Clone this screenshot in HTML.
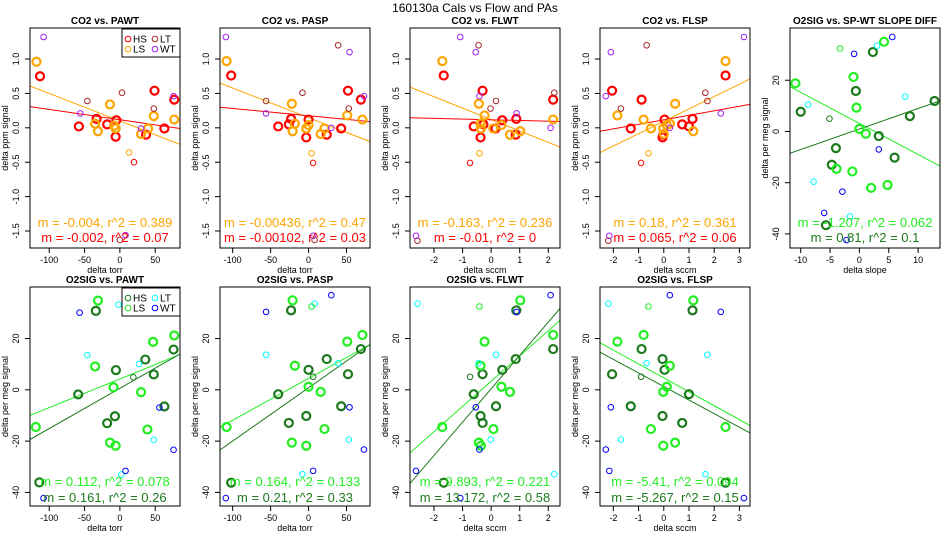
<!DOCTYPE html>
<html><head><meta charset="utf-8"><style>
html,body{margin:0;padding:0;background:#fff;}
svg{display:block;font-family:"Liberation Sans",Arial,sans-serif;}
</style></head><body>
<svg id="chart" width="950" height="550" viewBox="0 0 950 550">
<text x="475" y="12" text-anchor="middle" font-size="12">160130a   Cals vs Flow and PAs</text>
</svg>
<script>
// ===== Data =====
// Panel 1 CO2 vs PAWT
const p1_hs=[[-113,0.75],[-58,0.02],[-33,0.13],[-18,0.05],[-5,0.11],[-6,-0.13],[37,-0.10],[49,0.54],[63,-0.01],[77,0.41]];
const p1_ls=[[-118,0.96],[-14,0.34],[-35,0.06],[-31,-0.05],[-8,0.03],[-6,-0.01],[30,-0.09],[40,-0.01],[48,0.17],[77,0.12]];
const p1_lt=[[-46,0.39],[3,0.51],[48,0.28],[0,-1.63]];
const p1_wt=[[-108,1.32],[-56,0.21],[30,-0.01],[76,0.46],[8,-1.56]];
const p1_lsThin=[[13,-0.36]];
const p1_hsThin=[[20,-0.50]];
const p1_slopes=[-0.0040,-0.0015];
const p1_intercepts=[0.10,0.118];
// Panel 2 CO2 vs PASP
const p2_hs=[[-102,0.76],[-40,0.02],[-23,0.13],[-26,0.05],[0,0.12],[-3,-0.14],[24,-0.10],[52,0.54],[43,-0.01],[69,0.41]];
const p2_ls=[[-108,0.97],[-22,0.35],[-18,0.06],[-21,-0.05],[0,0.04],[-3,-0.01],[16,-0.09],[21,-0.01],[51,0.18],[71,0.12]];
const p2_lt=[[-56,0.39],[-8,0.51],[39,1.2],[53,0.28],[8,-1.63]];
const p2_wt=[[-109,1.32],[-56,0.21],[30,0],[54,1.10],[73,0.46],[6,-1.57]];
const p2_lsThin=[[4,-0.37]];
const p2_hsThin=[[6,-0.51]];
const p2_slopes=[-0.0043,-0.00106];
const p2_intercepts=[0.148,0.176];
// Panel 3 CO2 vs FLWT
const p3_hs=[[-1.66,0.76],[-0.61,0.02],[-0.30,0.54],[-0.27,0.05],[-0.37,-0.14],[0.15,-0.01],[0.39,0.11],[0.88,0.13],[0.86,-0.10],[2.17,0.41]];
const p3_ls=[[-1.71,0.97],[-0.43,0.35],[-0.23,0.18],[-0.37,0.06],[-0.36,-0.01],[0.08,-0.01],[0.36,0.04],[0.66,-0.10],[1.02,-0.05],[2.17,0.12]];
const p3_lt=[[-0.44,1.2],[-0.02,0.28],[0.17,0.39],[2.21,0.51],[-2.58,-1.64]];
const p3_wt=[[-1.08,1.32],[-0.54,1.10],[-0.41,0.46],[0.89,0.21],[2.08,0],[-2.63,-1.57]];
const p3_lsThin=[[-0.41,-0.37]];
const p3_hsThin=[[-0.74,-0.51]];
const p3_slopes=[-0.166,-0.0101];
const p3_intercepts=[0.12,0.117];
// Panel 4 CO2 vs FLSP
const p4_hs=[[2.45,0.76],[-2.05,0.54],[-0.88,0.41],[-1.31,-0.01],[0.03,0.12],[-0.05,-0.14],[-0.02,-0.10],[0.73,0.05],[1.0,0.02],[1.14,0.13]];
const p4_ls=[[2.45,0.97],[-1.84,0.18],[-0.8,0.12],[-0.51,-0.01],[-0.02,-0.01],[0.0,-0.09],[0.12,0.04],[0.24,0.06],[0.45,0.35],[1.17,-0.05]];
const p4_lt=[[-0.68,1.2],[-1.7,0.28],[1.65,0.51],[1.73,0.39],[-2.2,-1.64]];
const p4_wt=[[-2.1,1.10],[-2.3,0.46],[0.24,0],[2.26,0.21],[3.18,1.32],[-2.16,-1.57]];
const p4_lsThin=[[-0.61,-0.37]];
const p4_hsThin=[[-0.9,-0.51]];
const p4_slopes=[0.18,0.0655];
const p4_intercepts=[0.095,0.116];
// Panel 5 O2SIG vs SP-WT slope diff
const p5_hs=[[-10,7.7],[2.3,31],[-0.6,15.8],[3.3,-1.8],[-4,-6.5],[-4.7,-13],[6.0,-10.2],[8.6,6],[12.8,11.9],[-5.7,-36.6]];
const p5_ls=[[-10.9,18.8],[4.2,35],[-1,21.3],[-0.5,9.3],[0,1.0],[1.1,-0.9],[-3.9,-14.6],[-1.2,-15.6],[2.0,-22],[4.8,-20.9]];
const p5_lt=[[3,33.5],[-8.75,10.5],[7.8,13.6],[-7.8,-19.6],[-1.6,-33.2]];
const p5_wt=[[-0.9,30.3],[5.6,36.9],[3.3,-7],[-2.9,-23.5],[-6,-31.8],[-2.2,-42.4]];
const p5_lsThin=[[-3.3,32.4]];
const p5_hsThin=[[-5.1,5.0]];
const p5_slopes=[-1.213,0.80];
const p5_intercepts=[3.16,0.95];
// Panel 6 O2SIG vs PAWT
const p6_hs=[[-59,-1.8],[-34,30.8],[-5.6,7.7],[-18,-13],[-7,-10.3],[36,11.8],[48,6],[63,-6.5],[76,15.7],[-114,-36.1]];
const p6_ls=[[-119,-14.5],[-31,34.8],[-35,9.1],[-9,1],[-14,-20.6],[-6,-21.8],[30,-0.9],[39,-15.5],[47,18.7],[77,21.2]];
const p6_lt=[[-2,33.2],[-46,13.5],[27,10.1],[48,-19.5],[2,-33]];
const p6_wt=[[-57,30.1],[56,-6.9],[76,-23.4],[8,-31.6],[-108,-42.2]];
const p6_lsThin=[];
const p6_hsThin=[[19,4.9]];
const p6_slopes=[0.112,0.157];
const p6_intercepts=[4.25,0.6];
// Panel 7 O2SIG vs PASP
const p7_hs=[[-40,-1.7],[-23,31],[0,7.8],[-26,-12.9],[-3,-10.2],[24,12],[52,6.1],[43,-6.4],[69,15.9],[-102,-36.2]];
const p7_ls=[[-108,-14.5],[-21,34.9],[-18,9.4],[0,1.2],[-22,-20.6],[-3,-21.8],[16,-0.8],[21,-15.3],[51,18.8],[71,21.4]];
const p7_lt=[[8,33.6],[-56,13.7],[39,10.4],[53,-19.4],[-8,-32.9]];
const p7_wt=[[-56,30.4],[30,36.9],[54,-6.8],[73,-23.3],[6,-31.6],[-109,-42.2]];
const p7_lsThin=[[4,32.5]];
const p7_hsThin=[[6,5.1]];
const p7_slopes=[0.163,0.208];
const p7_intercepts=[4.45,0.8];
// Panel 8 O2SIG vs FLWT
const p8_hs=[[-0.61,-1.7],[0.88,31],[0.39,7.8],[-0.3,6.1],[-0.37,-10.2],[-0.3,-12.9],[0.17,-6.4],[0.86,12],[2.17,15.9],[-1.66,-36.2]];
const p8_ls=[[-1.71,-14.5],[1.02,34.9],[-0.23,18.8],[-0.37,9.4],[0.36,1.2],[0.66,-0.8],[0.08,-15.3],[-0.43,-20.6],[-0.36,-21.8],[2.17,21.4]];
const p8_lt=[[-2.58,33.6],[0.17,13.7],[-0.44,10.4],[-0.02,-19.4],[2.21,-32.9]];
const p8_wt=[[2.08,36.9],[0.89,30.4],[-0.54,-6.8],[-0.41,-23.3],[-2.63,-31.6],[-1.08,-42.2]];
const p8_lsThin=[[-0.41,32.5]];
const p8_hsThin=[[-0.74,5.1]];
const p8_slopes=[9.85,13.0];
const p8_intercepts=[3.37,0.4];
// Panel 9 O2SIG vs FLSP
const p9_hs=[[-2.05,6.1],[-0.88,15.9],[-1.31,-6.4],[0.03,7.8],[-0.05,12],[-0.05,-10.2],[0.73,-12.9],[1.0,-1.7],[1.14,31],[2.45,-36.2]];
const p9_ls=[[-1.84,18.8],[-0.8,21.4],[-0.51,-15.3],[-0.02,-0.8],[-0.02,-21.8],[0.12,1.2],[0.24,9.4],[0.45,-20.6],[1.17,34.9],[2.45,-14.5]];
const p9_lt=[[-2.2,33.6],[-0.68,10.4],[-1.7,-19.4],[1.65,-32.9],[1.73,13.7]];
const p9_wt=[[-2.1,-6.8],[-2.3,-23.3],[-2.16,-31.6],[0.24,36.9],[2.26,30.4],[3.18,-42.2]];
const p9_lsThin=[[-0.61,32.5]];
const p9_hsThin=[[-0.9,5.1]];
const p9_slopes=[-5.43,-5.29];
const p9_intercepts=[4.66,1.3];
// Annotation texts
const annot=[["m = -0.004, r^2 = 0.389","m = -0.002, r^2 = 0.07"],["m = -0.00436, r^2 = 0.47","m = -0.00102, r^2 = 0.03"],["m = -0.163, r^2 = 0.236","m = -0.01, r^2 = 0"],["m = 0.18, r^2 = 0.361","m = 0.065, r^2 = 0.06"],["m = -1.207, r^2 = 0.062","m = 0.81, r^2 = 0.1"],["m = 0.112, r^2 = 0.078","m = 0.161, r^2 = 0.26"],["m = 0.164, r^2 = 0.133","m = 0.21, r^2 = 0.33"],["m = 9.893, r^2 = 0.221","m = 13.172, r^2 = 0.58"],["m = -5.41, r^2 = 0.094","m = -5.267, r^2 = 0.15"]];
const titles=["CO2 vs. PAWT","CO2 vs. PASP","CO2 vs. FLWT","CO2 vs. FLSP","O2SIG vs. SP-WT SLOPE DIFF","O2SIG vs. PAWT","O2SIG vs. PASP","O2SIG vs. FLWT","O2SIG vs. FLSP"];
const xTitles=["delta torr","delta torr","delta sccm","delta sccm","delta slope","delta torr","delta torr","delta sccm","delta sccm"];
const xTicks=[[-100,-50,0,50],[-100,-50,0,50],[-2,-1,0,1,2],[-2,-1,0,1,2,3],[-10,-5,0,5,10],[-100,-50,0,50],[-100,-50,0,50],[-2,-1,0,1,2],[-2,-1,0,1,2,3]];
const co2Ticks=[1.0,0.5,0.0,-0.5,-1.0,-1.5];
const co2TickLabels=["1.0","0.5","0.0","-0.5","-1.0","-1.5"];
const o2Ticks=[20,0,-20,-40];
const o2TickLabels=["20","0","-20","-40"];

// ===== Layout =====
const NS="http://www.w3.org/2000/svg";
const svg=document.getElementById('chart');
function mk(tag,attrs,parent){const e=document.createElementNS(NS,tag);for(const k in attrs)e.setAttribute(k,attrs[k]);(parent||svg).appendChild(e);return e;}
const xDomains=[[-127.2,85.1],[-116.7,81],[-2.84,2.41],[-2.53,3.42],[-11.82,13.73],[-127.2,85.1],[-116.7,81],[-2.84,2.41],[-2.53,3.42]];
const panelData=[
 [p1_hs,p1_ls,p1_lt,p1_wt,p1_lsThin,p1_hsThin,p1_slopes,p1_intercepts],
 [p2_hs,p2_ls,p2_lt,p2_wt,p2_lsThin,p2_hsThin,p2_slopes,p2_intercepts],
 [p3_hs,p3_ls,p3_lt,p3_wt,p3_lsThin,p3_hsThin,p3_slopes,p3_intercepts],
 [p4_hs,p4_ls,p4_lt,p4_wt,p4_lsThin,p4_hsThin,p4_slopes,p4_intercepts],
 [p5_hs,p5_ls,p5_lt,p5_wt,p5_lsThin,p5_hsThin,p5_slopes,p5_intercepts],
 [p6_hs,p6_ls,p6_lt,p6_wt,p6_lsThin,p6_hsThin,p6_slopes,p6_intercepts],
 [p7_hs,p7_ls,p7_lt,p7_wt,p7_lsThin,p7_hsThin,p7_slopes,p7_intercepts],
 [p8_hs,p8_ls,p8_lt,p8_wt,p8_lsThin,p8_hsThin,p8_slopes,p8_intercepts],
 [p9_hs,p9_ls,p9_lt,p9_wt,p9_lsThin,p9_hsThin,p9_slopes,p9_intercepts]];
const CO2C={hs:"#ff0000",ls:"#ffa500",lt:"#a52a2a",wt:"#a020f0"};
const O2C={hs:"#1c7a1c",ls:"#22ee22",lt:"#00ffff",wt:"#0000ff"};

for(let i=0;i<9;i++){
  const row=i<5?0:1, col=i<5?i:i-5;
  const L=30+190*col, R=180+190*col;
  const T=row?287:28, B=row?506:248;
  const isCO2=i<4;
  const yDom=isCO2?[1.451,-1.747]:(row?[40.1,-45.3]:[40.4,-45.5]);
  const C=isCO2?CO2C:O2C;
  const xs=v=>L+(v-xDomains[i][0])/(xDomains[i][1]-xDomains[i][0])*(R-L);
  const ys=v=>T+(v-yDom[0])/(yDom[1]-yDom[0])*(B-T);
  const g=mk('g',{});
  
  
  const cp=mk('clipPath',{id:'cp'+i},g);
  mk('rect',{x:L,y:T,width:R-L,height:B-T},cp);
  const t=mk('text',{x:(L+R)/2,y:row?283:24,'text-anchor':'middle','font-size':'10','font-weight':'bold'},g);
  t.textContent=titles[i];
  
  
  // x ticks
  xTicks[i].forEach(v=>{
    const x=xs(v);
    mk('line',{x1:x,x2:x,y1:B,y2:B+5,stroke:'#000','stroke-width':1},g);
    const tl=mk('text',{x:x,y:B+15,'text-anchor':'middle','font-size':'9'},g);
    tl.textContent=String(v);
    
    
  });
  const xt=mk('text',{x:(L+R)/2,y:B+25,'text-anchor':'middle','font-size':'9'},g);
  xt.textContent=xTitles[i];
  
  
  // y ticks
  const yt=isCO2?co2Ticks:o2Ticks, ytl=isCO2?co2TickLabels:o2TickLabels;
  yt.forEach((v,k)=>{
    const y=ys(v);
    mk('line',{x1:L-5,x2:L,y1:y,y2:y,stroke:'#000','stroke-width':1},g);
    const tl=mk('text',{x:L-11,y:y,'text-anchor':'middle','font-size':'9',transform:`rotate(-90 ${L-11} ${y})`},g);
    tl.textContent=ytl[k];
    
    
  });
  const yx=L-22, yy=(T+B)/2;
  const ya=mk('text',{x:yx,y:yy,'text-anchor':'middle','font-size':'9',transform:`rotate(-90 ${yx} ${yy})`},g);
  ya.textContent=isCO2?"delta ppm signal":"delta per meg signal";
  
  
  const pd=panelData[i];
  const pg=mk('g',{'clip-path':`url(#cp${i})`},g);
  // fit lines: index0 = LS color, index1 = HS color
  [[C.ls,0],[C.hs,1]].forEach(([col2,k])=>{
    const x0=xDomains[i][0], x1=xDomains[i][1];
    const ln=mk('line',{x1:xs(x0),y1:ys(pd[7][k]+pd[6][k]*x0),x2:xs(x1),y2:ys(pd[7][k]+pd[6][k]*x1),stroke:col2,'stroke-width':1},pg);
    
    
  });
  const series=[[pd[0],C.hs,4,2.2,'point-hs'],[pd[1],C.ls,4,2.2,'point-ls'],[pd[2],C.lt,2.8,1,'point-lt'],[pd[3],C.wt,2.8,1,'point-wt'],[pd[4],C.ls,2.8,1,'point-ls-thin'],[pd[5],C.hs,2.8,1,'point-hs-thin']];
  series.forEach(([arr,col2,r,sw,nm])=>{
    arr.forEach(p=>{
      const c=mk('circle',{cx:xs(p[0]),cy:ys(p[1]),r:r,fill:'none',stroke:col2,'stroke-width':sw},pg);
      
      
    });
  });
  // annotations
  const a1=mk('text',{x:(L+R)/2,y:row?486:227,'text-anchor':'middle','font-size':'13',fill:C.ls},g);
  a1.textContent=annot[i][0];
  
  
  const a2=mk('text',{x:(L+R)/2,y:row?502:242,'text-anchor':'middle','font-size':'13',fill:C.hs},g);
  a2.textContent=annot[i][1];
  
  
  mk('rect',{x:L,y:T,width:R-L,height:B-T,fill:'none',stroke:'#000','stroke-width':1},g);
  // legends
  if(i===0||i===5){
    const lg=mk('g',{},g);
    
    
    const lt=T+1, lb=T+29;
    mk('rect',{x:122,y:lt,width:R-122,height:lb-lt,fill:'#fff',stroke:'#000','stroke-width':1},lg);
    [["HS",C.hs,128,lt+10],["LS",C.ls,128,lt+20],["LT",C.lt,155,lt+10],["WT",C.wt,155,lt+20]].forEach(([lab,col2,x,y])=>{
      mk('circle',{cx:x,cy:y,r:2.8,fill:'none',stroke:col2,'stroke-width':1},lg);
      const tx=mk('text',{x:x+5,y:y+3.5,'font-size':'10'},lg);
      tx.textContent=lab;
      
      
    });
  }
}
</script>
</body></html>
